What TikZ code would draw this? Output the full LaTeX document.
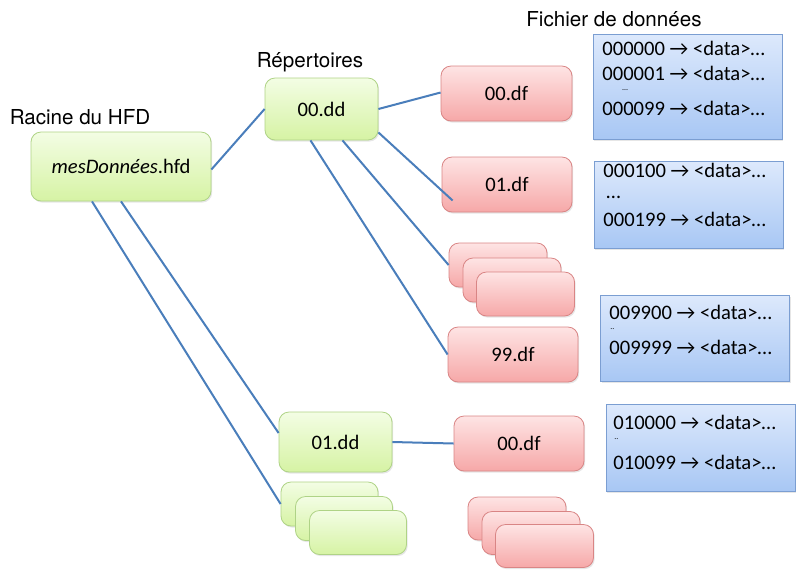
\documentclass[tikz,border=0pt]{standalone}
\usepackage{fontspec}
\setmainfont{Carlito}
\newfontfamily\lblfont{TeX Gyre Heros}
\usetikzlibrary{shadows,calc}
\definecolor{linkblue}{HTML}{4A7EBB}
\definecolor{gtop}{HTML}{F3FDE4}
\definecolor{gbot}{HTML}{D6F3A4}
\definecolor{gline}{HTML}{AFD386}
\definecolor{rtop}{HTML}{FEE4E4}
\definecolor{rbot}{HTML}{F6A8A8}
\definecolor{rline}{HTML}{D98585}
\definecolor{btop}{HTML}{DDE9FC}
\definecolor{bbot}{HTML}{A8C7F4}
\definecolor{bline}{HTML}{7B9ED2}
\begin{document}
\begin{tikzpicture}[x=0.5pt,y=-0.5pt,
    every node/.style={font=\fontsize{10.3}{12}\selectfont},
    boxshadow/.style={drop shadow={opacity=0.2,shadow xshift=0.6pt,shadow yshift=-0.8pt}},
    dirbox/.style={rounded corners=5pt,draw=gline,top color=gtop,bottom color=gbot,boxshadow},
    filebox/.style={rounded corners=5pt,draw=rline,top color=rtop,bottom color=rbot,boxshadow},
    databox/.style={draw=bline,top color=btop,bottom color=bbot,boxshadow,minimum width=94.5pt},
    datatext/.style={anchor=west,inner sep=0pt},
    tinydots/.style={anchor=west,inner sep=0pt,font=\fontsize{4}{5}\selectfont},
    title/.style={font=\lblfont\fontsize{10.3}{12}\selectfont},
    link/.style={draw=linkblue,line width=1pt}]
  \useasboundingbox (0,0) rectangle (800,575);

  \node[title] (tRoot) at (80,117) {Racine du HFD};
  \node[title] (tDirs) at (310,62) {Répertoires};
  \node[title] (tFiles) at (614,19) {Fichier de données};

  \node[dirbox,minimum width=90pt,minimum height=34.5pt] (root) at (121,166.5) {\textit{mesDonnées}.hfd};
  \node[dirbox,minimum width=56.5pt,minimum height=31pt] (dd00) at (321.5,109) {00.dd};
  \node[dirbox,minimum width=56.5pt,minimum height=30pt] (dd01) at (335.5,442) {01.dd};
  \node[dirbox,minimum width=48.5pt,minimum height=22pt] (ddA) at (329.5,504) {};
  \node[dirbox,minimum width=48.5pt,minimum height=22pt] (ddB) at (344,518.5) {};
  \node[dirbox,minimum width=48.5pt,minimum height=22pt] (ddC) at (358,532.5) {};

  \node[filebox,minimum width=65.5pt,minimum height=27.5pt] (df00) at (506.5,93.5) {00.df};
  \node[filebox,minimum width=65pt,minimum height=27.5pt] (df01) at (507,184.5) {01.df};
  \node[filebox,minimum width=49pt,minimum height=22pt] (dfA) at (498,265) {};
  \node[filebox,minimum width=49pt,minimum height=22pt] (dfB) at (512,280) {};
  \node[filebox,minimum width=49pt,minimum height=22pt] (dfC) at (525.5,294) {};
  \node[filebox,minimum width=65pt,minimum height=27.5pt] (df99) at (513,354.5) {99.df};
  \node[filebox,minimum width=65pt,minimum height=27.5pt] (dfx00) at (519,443.5) {00.df};
  \node[filebox,minimum width=49pt,minimum height=21.5pt] (dfxA) at (517,518.5) {};
  \node[filebox,minimum width=49pt,minimum height=21.5pt] (dfxB) at (531,533) {};
  \node[filebox,minimum width=49pt,minimum height=21.5pt] (dfxC) at (544.5,546) {};

  \node[databox,minimum height=52.5pt] (data1) at (687.5,86.5) {};
  \node[databox,minimum height=43.5pt] (data2) at (688.5,204.5) {};
  \node[databox,minimum height=43pt] (data3) at (695,338) {};
  \node[databox,minimum height=43.5pt] (data4) at (700.5,447.5) {};

  \node[datatext] (l1a) at (602,48) {000000 → <data>…};
  \node[datatext] (l1b) at (602,73) {000001 → <data>…};
  \node[tinydots] (l1c) at (622,90) {…};
  \node[datatext] (l1d) at (602,108) {000099 → <data>…};
  \node[datatext] (l2a) at (603,170) {000100 → <data>…};
  \node[datatext] (l2b) at (606,197) {…};
  \node[datatext] (l2c) at (603,219) {000199 → <data>…};
  \node[datatext] (l3a) at (609,312) {009900 → <data>…};
  \node[tinydots] (l3b) at (610,329) {..};
  \node[datatext] (l3c) at (609,347) {009999 → <data>…};
  \node[datatext] (l4a) at (613,422) {010000 → <data>…};
  \node[tinydots] (l4b) at (614,439) {..};
  \node[datatext] (l4c) at (613,462) {010099 → <data>…};

  \coordinate (in01) at ($(df01.west)+(11,16)$);
  \path[link] (root.east)+(0,3) -- (dd00.west);
  \path[link] (dd00.east) -- ($(df00.west)+(0,-1)$);
  \path[link] ($(dd00.south east)+(0,-8)$) -- (in01);
  \path[link] ($(dd00.south)+(21,0)$) -- (dfA.west);
  \path[link] ($(dd00.south)+(-11,0)$) -- (df99.west);
  \path[link] (root.south) -- ($(dd01.west)+(0,-9)$);
  \path[link] ($(root.south)+(-29,0)$) -- (ddA.west);
  \path[link] (dd01.east) -- (dfx00.west);
\end{tikzpicture}
\end{document}
